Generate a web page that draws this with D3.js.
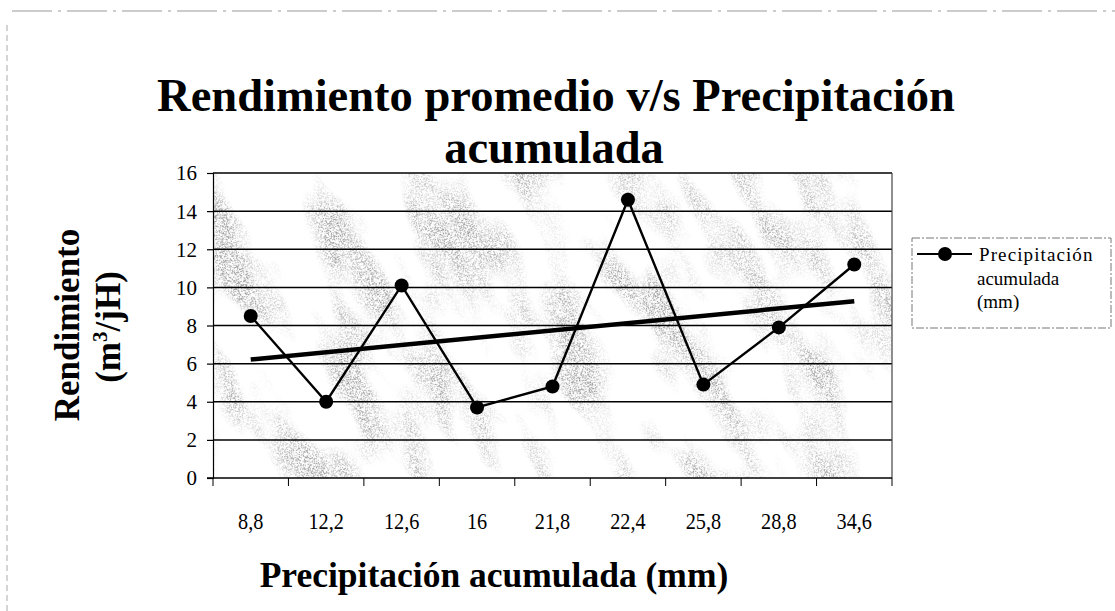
<!DOCTYPE html>
<html>
<head>
<meta charset="utf-8">
<script src="https://cdn.jsdelivr.net/npm/d3@7"></script>
<style>
  html, body { margin: 0; padding: 0; background: #ffffff; }
  svg { display: block; }
  svg text { font-family: "Liberation Serif", "Times New Roman", serif !important; fill: #000; }
</style>
</head>
<body>
<svg id="chart" width="1115" height="611"></svg>
<script>
// Precipitation categories (mm) and average yield (m3/jH)
const categories = ["8,8", "12,2", "12,6", "16", "21,8", "22,4", "25,8", "28,8", "34,6"];
const rendimiento = [8.5, 4.0, 10.1, 3.7, 4.8, 14.6, 4.9, 7.9, 11.2];
const yTicks = [0, 2, 4, 6, 8, 10, 12, 14, 16];
const seriesName = ["Precipitación", "acumulada", "(mm)"];

const svg = d3.select("#chart");
const plot = { left: 213, right: 892, top: 173, bottom: 478 };

const x = d3.scaleBand().domain(categories).range([plot.left, plot.right]).padding(0);
const y = d3.scaleLinear().domain([0, 16]).range([plot.bottom, plot.top]);
const cx = d => x(d) + x.bandwidth() / 2;

// page frame remnants
svg.append("line").attr("x1", 12).attr("x2", 1115).attr("y1", 11).attr("y2", 11)
  .attr("stroke", "#999").attr("stroke-width", 1).attr("stroke-dasharray", "40 6 3 6");
svg.append("line").attr("x1", 7).attr("x2", 7).attr("y1", 25).attr("y2", 611)
  .attr("stroke", "#aaa").attr("stroke-width", 1).attr("stroke-dasharray", "6 4");

// textured plot background: light grey speckle in diagonal streaks
const defs = svg.append("defs");
defs.append("clipPath").attr("id", "plotclip").append("rect")
  .attr("x", plot.left).attr("y", plot.top)
  .attr("width", plot.right - plot.left).attr("height", plot.bottom - plot.top);
const f = defs.append("filter").attr("id", "tex").attr("filterUnits", "userSpaceOnUse")
  .attr("x", -300).attr("y", -500).attr("width", 1800).attr("height", 1600)
  .attr("color-interpolation-filters", "sRGB");
f.append("feTurbulence").attr("type", "fractalNoise").attr("baseFrequency", "0.008 0.02")
  .attr("numOctaves", 3).attr("seed", 11).attr("result", "blob");
f.append("feColorMatrix").attr("in", "blob").attr("type", "matrix")
  .attr("values", "0 0 0 0 0.55  0 0 0 0 0.55  0 0 0 0 0.55  4 0 0 0 -1.85")
  .attr("result", "blobA");
f.append("feTurbulence").attr("type", "fractalNoise").attr("baseFrequency", "1.2")
  .attr("numOctaves", 1).attr("seed", 2).attr("result", "grain");
f.append("feColorMatrix").attr("in", "grain").attr("type", "matrix")
  .attr("values", "0 0 0 0 0  0 0 0 0 0  0 0 0 0 0  8 0 0 0 -3.9")
  .attr("result", "grainA");
f.append("feComposite").attr("in", "blobA").attr("in2", "grainA").attr("operator", "in");

svg.append("rect").attr("x", plot.left).attr("y", plot.top)
  .attr("width", plot.right - plot.left).attr("height", plot.bottom - plot.top)
  .attr("fill", "#fff");
const pcx = (plot.left + plot.right) / 2, pcy = (plot.top + plot.bottom) / 2;
svg.append("g").attr("clip-path", "url(#plotclip)").attr("opacity", 0.85)
  .append("g").attr("transform", `rotate(62,${pcx},${pcy})`)
  .append("rect").attr("x", pcx - 650).attr("y", pcy - 650).attr("width", 1300).attr("height", 1300)
  .attr("fill", "#fff").attr("filter", "url(#tex)");

// horizontal gridlines
svg.append("g").selectAll("line").data(yTicks.filter(t => t > 0)).join("line")
  .attr("x1", plot.left).attr("x2", plot.right)
  .attr("y1", d => y(d)).attr("y2", d => y(d))
  .attr("stroke", "#000").attr("stroke-width", 1.5);

// right border of the plot
svg.append("line").attr("x1", plot.right).attr("x2", plot.right)
  .attr("y1", plot.top).attr("y2", plot.bottom).attr("stroke", "#444").attr("stroke-width", 1.2);

// y axis
const yAxis = svg.append("g").attr("transform", `translate(${plot.left},0)`)
  .call(d3.axisLeft(y).tickValues(yTicks).tickSize(6).tickPadding(10).tickFormat(d3.format("d")));
yAxis.attr("font-family", null);
yAxis.select(".domain").attr("stroke", "#000").attr("stroke-width", 1.2);
yAxis.selectAll(".tick line").attr("stroke", "#000").attr("stroke-width", 1.2);
yAxis.selectAll(".tick text").attr("font-size", 21).attr("fill", "#000").attr("dy", "0.33em");

// x axis with ticks at category boundaries
const xAxisG = svg.append("g").attr("transform", `translate(0,${plot.bottom})`);
xAxisG.append("line").attr("x1", plot.left - 6).attr("x2", plot.right)
  .attr("stroke", "#000").attr("stroke-width", 1.5);
const bounds = categories.map(c => x(c)).concat([plot.right]);
xAxisG.selectAll("line.tk").data(bounds).join("line").attr("class", "tk")
  .attr("x1", d => d).attr("x2", d => d).attr("y1", 0).attr("y2", 8)
  .attr("stroke", "#000").attr("stroke-width", 1);
xAxisG.selectAll("text").data(categories).join("text")
  .attr("transform", d => `translate(${cx(d)},51) scale(0.9,1)`).attr("text-anchor", "middle")
  .attr("font-size", 22.5).text(d => d);

// linear trend (least squares over category index)
const n = rendimiento.length;
const xs = d3.range(1, n + 1);
const mx = d3.mean(xs), my = d3.mean(rendimiento);
const slope = d3.sum(xs, (v, i) => (v - mx) * (rendimiento[i] - my)) / d3.sum(xs, v => (v - mx) ** 2);
const icpt = my - slope * mx;
svg.append("line")
  .attr("x1", cx(categories[0])).attr("y1", y(icpt + slope * 1))
  .attr("x2", cx(categories[n - 1])).attr("y2", y(icpt + slope * n))
  .attr("stroke", "#000").attr("stroke-width", 4.5);

// data series
const line = d3.line().x((d, i) => cx(categories[i])).y(d => y(d));
svg.append("path").datum(rendimiento).attr("d", line)
  .attr("fill", "none").attr("stroke", "#000").attr("stroke-width", 2.4);
svg.append("g").selectAll("circle").data(rendimiento).join("circle")
  .attr("cx", (d, i) => cx(categories[i])).attr("cy", d => y(d)).attr("r", 7).attr("fill", "#000");

// title
const title = svg.append("text").attr("text-anchor", "middle").attr("font-weight", "bold")
  .attr("font-size", 46.5);
title.append("tspan").attr("x", 556).attr("y", 111).text("Rendimiento promedio v/s Precipitación");
title.append("tspan").attr("x", 554).attr("y", 163).text("acumulada");

// y axis title
const yt = svg.append("text").attr("transform", "rotate(-90)")
  .attr("text-anchor", "middle").attr("font-weight", "bold").attr("font-size", 35);
yt.append("tspan").attr("x", -325).attr("y", 79).text("Rendimiento");
const yt2 = yt.append("tspan").attr("x", -327).attr("y", 120);
yt2.append("tspan").text("(m");
yt2.append("tspan").attr("font-size", 21).attr("dy", -13).text("3");
yt2.append("tspan").attr("dy", 13).text("/jH)");

// x axis title
svg.append("text").attr("x", 494).attr("y", 587).attr("text-anchor", "middle")
  .attr("font-weight", "bold").attr("font-size", 35.5).text("Precipitación acumulada (mm)");

// legend
const lg = svg.append("g");
lg.append("rect").attr("x", 912).attr("y", 238).attr("width", 199).attr("height", 90)
  .attr("fill", "#fff").attr("stroke", "#777").attr("stroke-width", 1).attr("stroke-dasharray", "8 2 2 2");
lg.append("line").attr("x1", 917).attr("x2", 972).attr("y1", 254).attr("y2", 254)
  .attr("stroke", "#000").attr("stroke-width", 2);
lg.append("circle").attr("cx", 945).attr("cy", 254).attr("r", 7).attr("fill", "#000");
lg.selectAll("text").data(seriesName).join("text")
  .attr("x", (d, i) => i === 0 ? 979 : 977).attr("y", (d, i) => 261 + i * 23.5)
  .attr("font-size", 19).attr("letter-spacing", (d, i) => i === 0 ? 1.1 : 0).text(d => d);
</script>
</body>
</html>
